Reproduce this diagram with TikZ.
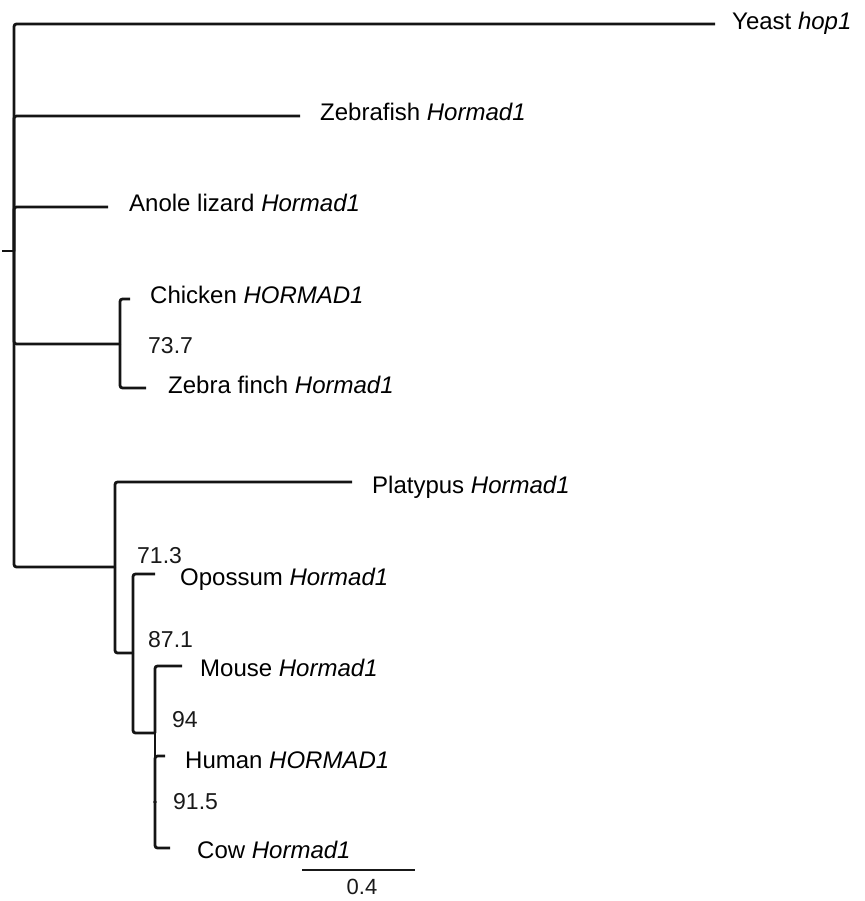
\documentclass[tikz,border=0pt]{standalone}
\usepackage{fontspec}
\setmainfont{Liberation Sans}
\begin{document}
\begin{tikzpicture}[x=1pt,y=-1pt,
  branch/.style={line width=2.8pt,draw=black!92,rounded corners=2.5pt,line cap=butt},
  taxon/.style={anchor=base west,inner sep=0pt,font=\fontsize{24}{28}\selectfont},
  boot/.style={anchor=base west,inner sep=0pt,font=\fontsize{23}{27}\selectfont,text=black!90}]
\useasboundingbox (0,0) rectangle (864,901);
% internal nodes
\coordinate (r0) at (2,251);
\coordinate (r) at (14,251);
\coordinate (bird) at (120,344);
\coordinate (mam) at (115,567);
\coordinate (ther) at (133,653);
\coordinate (euth) at (155,733);
\coordinate (hc) at (155,802);
% tips
\coordinate (tYeast) at (715,24);
\coordinate (tZebrafish) at (300,116);
\coordinate (tAnole) at (108,207);
\coordinate (tChicken) at (130,299);
\coordinate (tFinch) at (146,388);
\coordinate (tPlatypus) at (352,482);
\coordinate (tOpossum) at (155,574);
\coordinate (tMouse) at (182,666);
\coordinate (tHuman) at (165,756);
\coordinate (tCow) at (170,848);
% labels
\node[taxon] (lYeast) at (732,30) {Yeast \textit{hop1}};
\node[taxon] (lZebrafish) at (320,121) {Zebrafish \textit{Hormad1}};
\node[taxon] (lAnole) at (129,212) {Anole lizard \textit{Hormad1}};
\node[taxon] (lChicken) at (150,303) {Chicken \textit{HORMAD1}};
\node[taxon] (lFinch) at (168,393) {Zebra finch \textit{Hormad1}};
\node[taxon] (lPlatypus) at (372,493) {Platypus \textit{Hormad1}};
\node[taxon] (lOpossum) at (180,585) {Opossum \textit{Hormad1}};
\node[taxon] (lMouse) at (200,676) {Mouse \textit{Hormad1}};
\node[taxon] (lHuman) at (185,768) {Human \textit{HORMAD1}};
\node[taxon] (lCow) at (197,858) {Cow \textit{Hormad1}};
% bootstrap values
\node[boot] (b737) at (148,353) {73.7};
\node[boot] (b713) at (137,563) {71.3};
\node[boot] (b871) at (148,647) {87.1};
\node[boot] (b94) at (172,727) {94};
\node[boot] (b915) at (173,809) {91.5};
% branches
\draw[branch] (r0) -- (r);
\draw[branch] (r) |- (tYeast);
\draw[branch] (r) |- (tZebrafish);
\draw[branch] (r) |- (tAnole);
\draw[branch] (r) |- (bird);
\draw[branch] (r) |- (mam);
\draw[branch] (bird) |- (tChicken);
\draw[branch] (bird) |- (tFinch);
\draw[branch] (mam) |- (tPlatypus);
\draw[branch] (mam) |- (ther);
\draw[branch] (ther) |- (tOpossum);
\draw[branch] (ther) |- (euth);
\draw[branch] (euth) |- (tMouse);
\draw[branch] (euth) -- (hc);
\draw[branch] (hc) |- (tHuman);
\draw[branch] (hc) |- (tCow);
\fill[black!92] (hc) circle (1.8pt);
% scale bar
\coordinate (s0) at (302,870);
\coordinate (s1) at (415,870);
\draw[line width=1.4pt,black!90] (s0) -- (s1);
\node[anchor=base,inner sep=0pt,font=\fontsize{22}{26}\selectfont,text=black!90] (sLabel) at (362,894) {0.4};
\end{tikzpicture}
\end{document}
